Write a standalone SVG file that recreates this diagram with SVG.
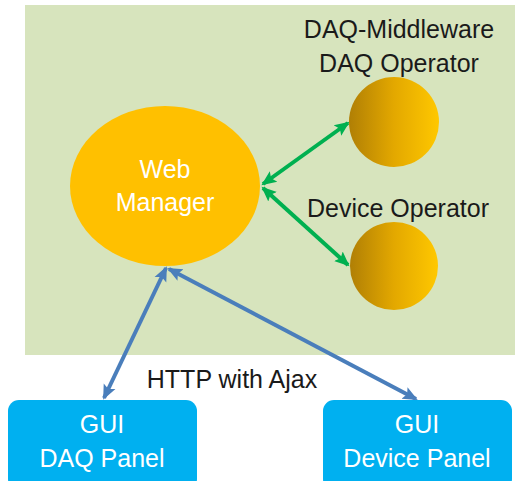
<svg xmlns="http://www.w3.org/2000/svg" width="515" height="481" viewBox="0 0 515 481">
<style>
.lbl{font-family:"Liberation Sans","Open Sans",sans-serif;font-size:25px;fill:#1a1a1a;text-anchor:middle}
.wt{font-family:"Liberation Sans","Open Sans",sans-serif;font-size:25px;fill:#ffffff;text-anchor:middle}
.g{stroke:#00b050;stroke-width:4;fill:none}
.b{stroke:#4a7ebb;stroke-width:4;fill:none}
.box{fill:#00b0f0}
</style>
<defs>
<linearGradient id="orb" x1="0" y1="0" x2="1" y2="0">
<stop offset="0" stop-color="#b07f05"/>
<stop offset="0.5" stop-color="#e3a800"/>
<stop offset="1" stop-color="#ffc800"/>
</linearGradient>
<marker id="ag" markerWidth="16" markerHeight="16" refX="13" refY="8" orient="auto-start-reverse" markerUnits="userSpaceOnUse">
<path d="M0,1.5 L15,8 L0,14.5 L3,8 Z" fill="#00b050"/>
</marker>
<marker id="ab" markerWidth="16" markerHeight="16" refX="13" refY="8" orient="auto-start-reverse" markerUnits="userSpaceOnUse">
<path d="M0,1.5 L15,8 L0,14.5 L3,8 Z" fill="#4a7ebb"/>
</marker>
</defs>
<rect id="bg" x="25" y="5" width="490" height="350" fill="#d7e4bd"/>
<g id="connectors">
<line class="g" x1="263" y1="184" x2="348" y2="123" marker-start="url(#ag)" marker-end="url(#ag)"/>
<line class="g" x1="263" y1="188" x2="348" y2="265" marker-start="url(#ag)" marker-end="url(#ag)"/>
<line class="b" x1="166" y1="268" x2="104" y2="398" marker-start="url(#ab)" marker-end="url(#ab)"/>
<line class="b" x1="169" y1="269" x2="416" y2="399" marker-start="url(#ab)" marker-end="url(#ab)"/>
</g>
<g id="webmanager">
<ellipse cx="165" cy="186" rx="95" ry="80" fill="#ffc000"/>
<text class="wt" x="165" y="178">Web</text>
<text class="wt" x="165" y="211">Manager</text>
</g>
<g id="daqoperator">
<text class="lbl" x="399" y="38">DAQ-Middleware</text>
<text class="lbl" x="399" y="72">DAQ Operator</text>
<circle cx="394" cy="122" r="45" fill="url(#orb)"/>
</g>
<g id="deviceoperator">
<text class="lbl" x="398" y="217">Device Operator</text>
<circle cx="394" cy="266" r="44" fill="url(#orb)"/>
</g>
<text class="lbl" x="232" y="388">HTTP with Ajax</text>
<g id="guidaq">
<rect class="box" x="8" y="400" width="189" height="90" rx="11"/>
<text class="wt" x="102" y="433">GUI</text>
<text class="wt" x="102" y="467">DAQ Panel</text>
</g>
<g id="guidevice">
<rect class="box" x="323" y="400" width="189" height="90" rx="11"/>
<text class="wt" x="417" y="433">GUI</text>
<text class="wt" x="417" y="467">Device Panel</text>
</g>
</svg>
